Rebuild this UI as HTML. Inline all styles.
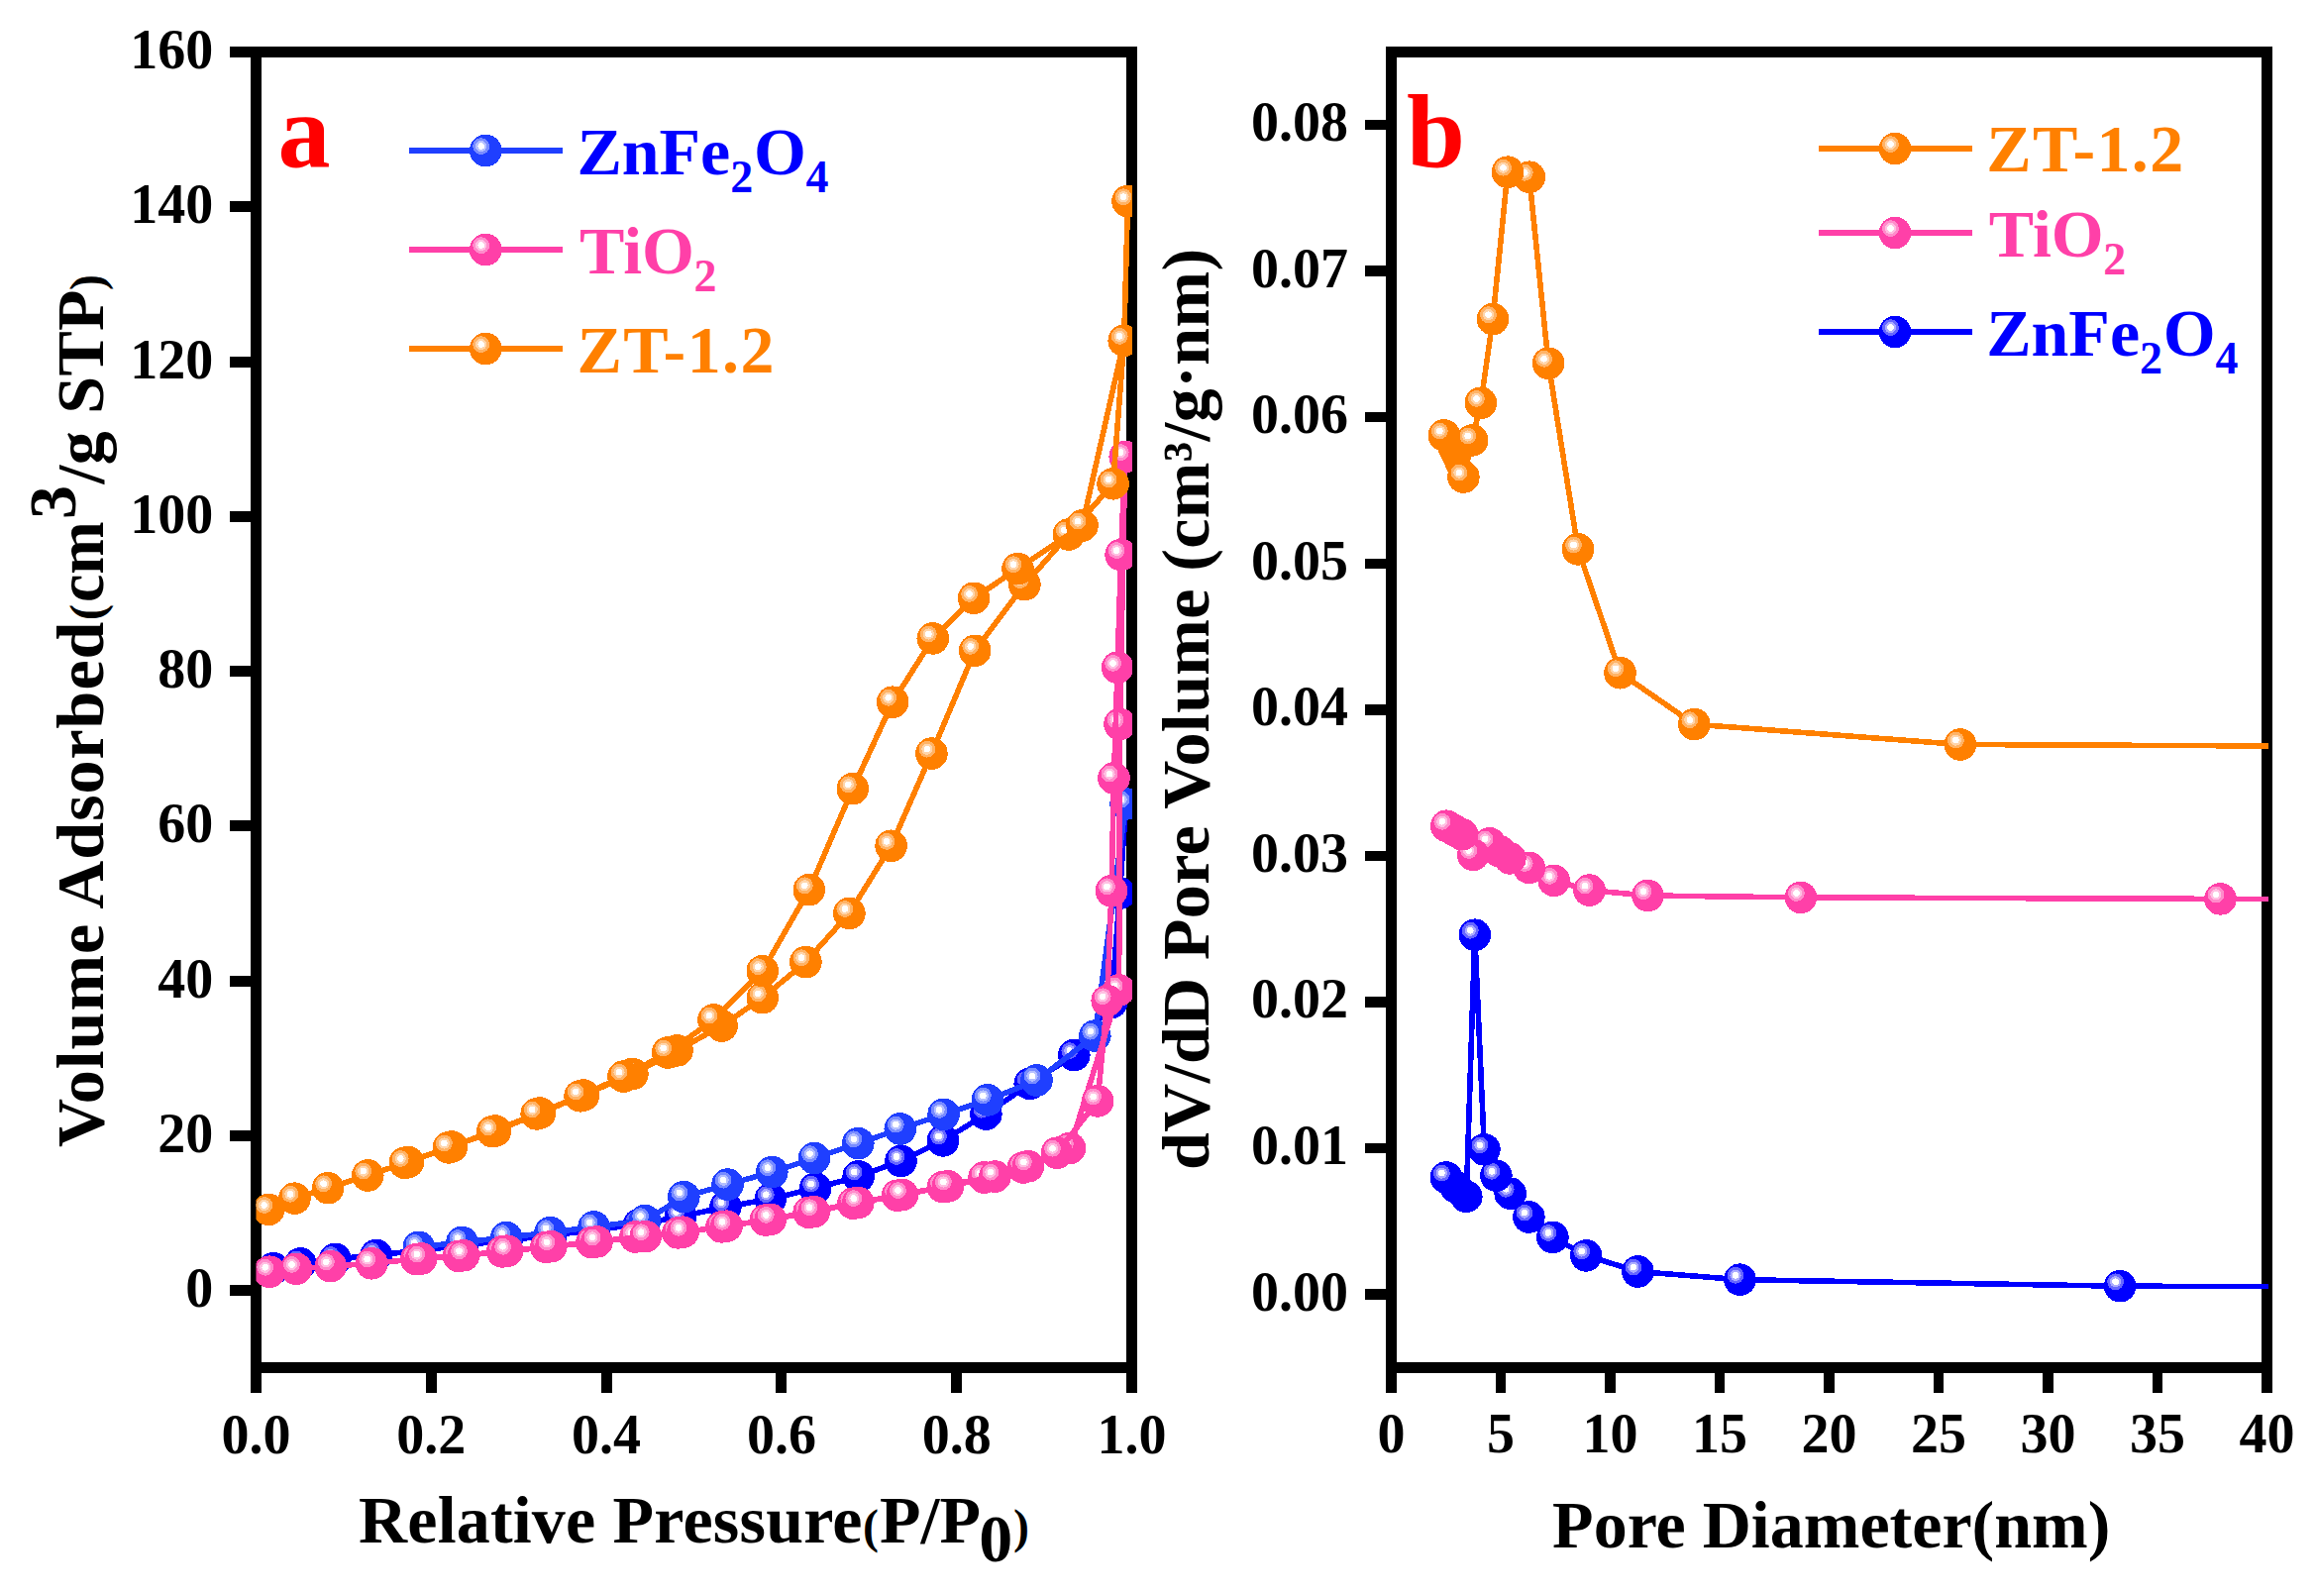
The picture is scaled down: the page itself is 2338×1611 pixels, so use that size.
<!DOCTYPE html>
<html><head><meta charset="utf-8"><title>N2 adsorption-desorption isotherms and pore size distribution</title>
<style>html,body{margin:0;padding:0;background:#fff}svg{display:block}</style></head>
<body>
<svg width="2338" height="1611" viewBox="0 0 2338 1611">
<rect width="2338" height="1611" fill="#fff"/>
<defs>
<g id="bo"><circle r="16.3" fill="#FF8000"/><circle cx="-4.5" cy="-4.4" r="8.4" fill="#FFB366"/><circle cx="-4.5" cy="-4.4" r="5.6" fill="#FFD5AB"/><circle cx="-4.5" cy="-4.4" r="3.3" fill="#FFFFFF"/></g>
<g id="bp"><circle r="16.3" fill="#FF40A8"/><circle cx="-4.5" cy="-4.4" r="8.4" fill="#FF8CCB"/><circle cx="-4.5" cy="-4.4" r="5.6" fill="#FFC0E2"/><circle cx="-4.5" cy="-4.4" r="3.3" fill="#FFFFFF"/></g>
<g id="br"><circle r="16.3" fill="#1F3FFF"/><circle cx="-4.5" cy="-4.4" r="8.4" fill="#798CFF"/><circle cx="-4.5" cy="-4.4" r="5.6" fill="#B5C0FF"/><circle cx="-4.5" cy="-4.4" r="3.3" fill="#FFFFFF"/></g>
<g id="bb"><circle r="16.3" fill="#0000FF"/><circle cx="-4.5" cy="-4.4" r="8.4" fill="#6666FF"/><circle cx="-4.5" cy="-4.4" r="5.6" fill="#ABABFF"/><circle cx="-4.5" cy="-4.4" r="3.3" fill="#FFFFFF"/></g>
<clipPath id="ca"><rect x="258.5" y="52.5" width="884.5" height="1328"/></clipPath>
<clipPath id="cb"><rect x="1404.5" y="52.5" width="885.5" height="1328"/></clipPath>
</defs>
<g stroke="#000" stroke-width="11" fill="none" shape-rendering="crispEdges"><rect x="258.5" y="52.5" width="884.0" height="1328.0"/><g stroke-width="11"><line x1="258.5" y1="1380.5" x2="258.5" y2="1406" stroke-width="11"/><line x1="435.3" y1="1380.5" x2="435.3" y2="1406" stroke-width="11"/><line x1="612.1" y1="1380.5" x2="612.1" y2="1406" stroke-width="11"/><line x1="788.9" y1="1380.5" x2="788.9" y2="1406" stroke-width="11"/><line x1="965.7" y1="1380.5" x2="965.7" y2="1406" stroke-width="11"/><line x1="1142.5" y1="1380.5" x2="1142.5" y2="1406" stroke-width="11"/><line x1="232.0" y1="1302.5" x2="258.5" y2="1302.5"/><line x1="232.0" y1="1146.2" x2="258.5" y2="1146.2"/><line x1="232.0" y1="990.0" x2="258.5" y2="990.0"/><line x1="232.0" y1="833.8" x2="258.5" y2="833.8"/><line x1="232.0" y1="677.5" x2="258.5" y2="677.5"/><line x1="232.0" y1="521.2" x2="258.5" y2="521.2"/><line x1="232.0" y1="365.0" x2="258.5" y2="365.0"/><line x1="232.0" y1="208.8" x2="258.5" y2="208.8"/><line x1="232.0" y1="52.5" x2="258.5" y2="52.5"/></g></g>
<g stroke="#000" stroke-width="11" fill="none" shape-rendering="crispEdges"><rect x="1404.5" y="52.5" width="884.0" height="1328.0"/><g stroke-width="10.4"><line x1="1404.5" y1="1380.5" x2="1404.5" y2="1406" stroke-width="11"/><line x1="1515.0" y1="1380.5" x2="1515.0" y2="1406" stroke-width="10.4"/><line x1="1625.5" y1="1380.5" x2="1625.5" y2="1406" stroke-width="10.4"/><line x1="1736.0" y1="1380.5" x2="1736.0" y2="1406" stroke-width="10.4"/><line x1="1846.5" y1="1380.5" x2="1846.5" y2="1406" stroke-width="10.4"/><line x1="1957.0" y1="1380.5" x2="1957.0" y2="1406" stroke-width="10.4"/><line x1="2067.5" y1="1380.5" x2="2067.5" y2="1406" stroke-width="10.4"/><line x1="2178.0" y1="1380.5" x2="2178.0" y2="1406" stroke-width="10.4"/><line x1="2288.5" y1="1380.5" x2="2288.5" y2="1406" stroke-width="11"/><line x1="1378.0" y1="1306.5" x2="1404.5" y2="1306.5"/><line x1="1378.0" y1="1158.9" x2="1404.5" y2="1158.9"/><line x1="1378.0" y1="1011.4" x2="1404.5" y2="1011.4"/><line x1="1378.0" y1="863.8" x2="1404.5" y2="863.8"/><line x1="1378.0" y1="716.3" x2="1404.5" y2="716.3"/><line x1="1378.0" y1="568.7" x2="1404.5" y2="568.7"/><line x1="1378.0" y1="421.1" x2="1404.5" y2="421.1"/><line x1="1378.0" y1="273.6" x2="1404.5" y2="273.6"/><line x1="1378.0" y1="126.0" x2="1404.5" y2="126.0"/></g></g>
<g font-family="'Liberation Serif', 'Times New Roman', serif" font-weight="bold" font-size="56" fill="#000"><text x="215.2" y="1319.0" text-anchor="end">0</text><text x="215.2" y="1162.8" text-anchor="end">20</text><text x="215.2" y="1006.5" text-anchor="end">40</text><text x="215.2" y="850.2" text-anchor="end">60</text><text x="215.2" y="694.0" text-anchor="end">80</text><text x="215.2" y="537.8" text-anchor="end">100</text><text x="215.2" y="381.5" text-anchor="end">120</text><text x="215.2" y="225.2" text-anchor="end">140</text><text x="215.2" y="69.0" text-anchor="end">160</text><text x="258.5" y="1467" text-anchor="middle">0.0</text><text x="435.3" y="1467" text-anchor="middle">0.2</text><text x="612.1" y="1467" text-anchor="middle">0.4</text><text x="788.9" y="1467" text-anchor="middle">0.6</text><text x="965.7" y="1467" text-anchor="middle">0.8</text><text x="1142.5" y="1467" text-anchor="middle">1.0</text><text x="1361" y="1322.5" text-anchor="end">0.00</text><text x="1361" y="1174.9" text-anchor="end">0.01</text><text x="1361" y="1027.4" text-anchor="end">0.02</text><text x="1361" y="879.8" text-anchor="end">0.03</text><text x="1361" y="732.3" text-anchor="end">0.04</text><text x="1361" y="584.7" text-anchor="end">0.05</text><text x="1361" y="437.1" text-anchor="end">0.06</text><text x="1361" y="289.6" text-anchor="end">0.07</text><text x="1361" y="142.0" text-anchor="end">0.08</text><text x="1404.5" y="1466" text-anchor="middle">0</text><text x="1515.0" y="1466" text-anchor="middle">5</text><text x="1625.5" y="1466" text-anchor="middle">10</text><text x="1736.0" y="1466" text-anchor="middle">15</text><text x="1846.5" y="1466" text-anchor="middle">20</text><text x="1957.0" y="1466" text-anchor="middle">25</text><text x="2067.5" y="1466" text-anchor="middle">30</text><text x="2178.0" y="1466" text-anchor="middle">35</text><text x="2288.5" y="1466" text-anchor="middle">40</text></g>
<g font-family="'Liberation Serif', 'Times New Roman', serif" font-weight="bold" font-size="68" fill="#000"><text y="1557"><tspan x="362" letter-spacing="0.19">Relative Pressure</tspan><tspan x="871" font-size="48">(</tspan><tspan x="888">P/P</tspan><tspan x="988.2" dy="19">0</tspan><tspan x="1023.1" dy="-19" font-size="48">)</tspan></text><text transform="translate(104,0) rotate(-90)" y="0"><tspan x="-1158" letter-spacing="0.95">Volume Adsorbed</tspan><tspan x="-625.9" font-size="48">(</tspan><tspan x="-608.1" textLength="81.9" lengthAdjust="spacingAndGlyphs">cm</tspan><tspan x="-524.1" dy="-28">3</tspan><tspan x="-488.5" dy="28" letter-spacing="0.3">/g STP</tspan><tspan x="-292.9" font-size="48">)</tspan></text><text x="1567.1" y="1561.5">Pore Diameter(nm)</text><text transform="translate(1219.5,0) rotate(-90)" x="-1181" y="0" letter-spacing="0.37">dV/dD Pore Volume (cm³/g·nm)</text></g>
<g clip-path="url(#ca)" shape-rendering="crispEdges">
<polyline points="276.2,1280.2 303.4,1275.4 338.4,1270.9 379.8,1267.0 423.9,1262.2 467.0,1257.0 511.5,1252.0 556.0,1247.0 600.0,1241.5 645.0,1236.0 687.1,1228.0 732.4,1218.3 777.8,1210.1 823.1,1199.5 866.7,1187.4 909.5,1171.9 952.0,1151.4 995.4,1124.6 1039.7,1093.9 1084.3,1065.0 1122.0,1012.0 1130.5,901.6 1136.6,811.4" fill="none" stroke="#0000FF" stroke-width="5.6" stroke-linejoin="round"/>
<use href="#bb" x="276.2" y="1280.2"/><use href="#bb" x="303.4" y="1275.4"/><use href="#bb" x="338.4" y="1270.9"/><use href="#bb" x="379.8" y="1267.0"/><use href="#bb" x="423.9" y="1262.2"/><use href="#bb" x="467.0" y="1257.0"/><use href="#bb" x="511.5" y="1252.0"/><use href="#bb" x="556.0" y="1247.0"/><use href="#bb" x="600.0" y="1241.5"/><use href="#bb" x="645.0" y="1236.0"/><use href="#bb" x="687.1" y="1228.0"/><use href="#bb" x="732.4" y="1218.3"/><use href="#bb" x="777.8" y="1210.1"/><use href="#bb" x="823.1" y="1199.5"/><use href="#bb" x="866.7" y="1187.4"/><use href="#bb" x="909.5" y="1171.9"/><use href="#bb" x="952.0" y="1151.4"/><use href="#bb" x="995.4" y="1124.6"/><use href="#bb" x="1039.7" y="1093.9"/><use href="#bb" x="1084.3" y="1065.0"/><use href="#bb" x="1122.0" y="1012.0"/><use href="#bb" x="1130.5" y="901.6"/><use href="#bb" x="1136.6" y="811.4"/>
<polyline points="1136.6,811.4 1105.3,1045.6 1046.5,1090.5 996.9,1110.4 952.6,1124.8 908.8,1139.5 866.3,1154.2 822.0,1169.1 779.3,1183.1 734.6,1195.6 690.3,1208.2 651.1,1232.0 599.6,1238.4 555.5,1244.2 511.2,1249.1 466.5,1254.0 422.8,1258.8" fill="none" stroke="#1F3FFF" stroke-width="5.6" stroke-linejoin="round"/>
<use href="#br" x="1136.6" y="811.4"/><use href="#br" x="1105.3" y="1045.6"/><use href="#br" x="1046.5" y="1090.5"/><use href="#br" x="996.9" y="1110.4"/><use href="#br" x="952.6" y="1124.8"/><use href="#br" x="908.8" y="1139.5"/><use href="#br" x="866.3" y="1154.2"/><use href="#br" x="822.0" y="1169.1"/><use href="#br" x="779.3" y="1183.1"/><use href="#br" x="734.6" y="1195.6"/><use href="#br" x="690.3" y="1208.2"/><use href="#br" x="651.1" y="1232.0"/><use href="#br" x="599.6" y="1238.4"/><use href="#br" x="555.5" y="1244.2"/><use href="#br" x="511.2" y="1249.1"/><use href="#br" x="466.5" y="1254.0"/><use href="#br" x="422.8" y="1258.8"/>
<polyline points="420.3,1271.2 463.0,1267.9 507.1,1263.4 551.4,1258.9 597.5,1254.1 641.4,1248.5 684.5,1244.4 728.5,1238.4 772.8,1231.5 816.6,1223.8 861.3,1214.7 906.0,1206.7 951.9,1198.1 993.6,1188.5 1033.0,1178.5 1080.0,1158.9 1129.6,999.4 1130.5,731.0 1135.7,461.0" fill="none" stroke="#FF40A8" stroke-width="5.6" stroke-linejoin="round"/>
<use href="#bp" x="420.3" y="1271.2"/><use href="#bp" x="463.0" y="1267.9"/><use href="#bp" x="507.1" y="1263.4"/><use href="#bp" x="551.4" y="1258.9"/><use href="#bp" x="597.5" y="1254.1"/><use href="#bp" x="641.4" y="1248.5"/><use href="#bp" x="684.5" y="1244.4"/><use href="#bp" x="728.5" y="1238.4"/><use href="#bp" x="772.8" y="1231.5"/><use href="#bp" x="816.6" y="1223.8"/><use href="#bp" x="861.3" y="1214.7"/><use href="#bp" x="906.0" y="1206.7"/><use href="#bp" x="951.9" y="1198.1"/><use href="#bp" x="993.6" y="1188.5"/><use href="#bp" x="1033.0" y="1178.5"/><use href="#bp" x="1080.0" y="1158.9"/><use href="#bp" x="1129.6" y="999.4"/><use href="#bp" x="1130.5" y="731.0"/><use href="#bp" x="1135.7" y="461.0"/>
<polyline points="272.2,1283.7 299.0,1280.8 333.8,1278.2 375.2,1275.3 425.3,1270.5 468.0,1267.2 512.1,1262.7 556.4,1258.2 602.5,1253.4 651.7,1248.1 689.5,1243.7 733.5,1237.7 777.8,1230.8 821.6,1223.1 866.3,1214.0 911.0,1206.0 956.9,1197.4 1004.4,1187.6 1037.9,1177.3 1067.0,1163.7 1108.1,1111.4 1117.7,1010.2 1122.0,899.3 1124.5,785.5 1128.1,673.8 1131.6,560.0 1135.7,461.0" fill="none" stroke="#FF40A8" stroke-width="5.6" stroke-linejoin="round"/>
<use href="#bp" x="272.2" y="1283.7"/><use href="#bp" x="299.0" y="1280.8"/><use href="#bp" x="333.8" y="1278.2"/><use href="#bp" x="375.2" y="1275.3"/><use href="#bp" x="425.3" y="1270.5"/><use href="#bp" x="468.0" y="1267.2"/><use href="#bp" x="512.1" y="1262.7"/><use href="#bp" x="556.4" y="1258.2"/><use href="#bp" x="602.5" y="1253.4"/><use href="#bp" x="651.7" y="1248.1"/><use href="#bp" x="689.5" y="1243.7"/><use href="#bp" x="733.5" y="1237.7"/><use href="#bp" x="777.8" y="1230.8"/><use href="#bp" x="821.6" y="1223.1"/><use href="#bp" x="866.3" y="1214.0"/><use href="#bp" x="911.0" y="1206.0"/><use href="#bp" x="956.9" y="1197.4"/><use href="#bp" x="1004.4" y="1187.6"/><use href="#bp" x="1037.9" y="1177.3"/><use href="#bp" x="1067.0" y="1163.7"/><use href="#bp" x="1108.1" y="1111.4"/><use href="#bp" x="1117.7" y="1010.2"/><use href="#bp" x="1122.0" y="899.3"/><use href="#bp" x="1124.5" y="785.5"/><use href="#bp" x="1128.1" y="673.8"/><use href="#bp" x="1131.6" y="560.0"/><use href="#bp" x="1135.7" y="461.0"/>
<polyline points="271.2,1220.9 297.4,1209.7 331.1,1199.2 371.3,1186.5 412.0,1173.0 456.0,1157.5 500.0,1141.5 545.0,1123.5 589.0,1105.5 638.4,1084.0 683.5,1060.4 728.6,1035.5 769.8,1007.2 813.4,971.1 857.4,921.9 899.6,853.8 940.4,760.6 984.2,656.8 1034.4,590.0 1078.9,539.5 1123.6,488.3 1134.7,343.8 1138.5,203.1" fill="none" stroke="#FF8000" stroke-width="5.6" stroke-linejoin="round"/>
<use href="#bo" x="271.2" y="1220.9"/><use href="#bo" x="297.4" y="1209.7"/><use href="#bo" x="331.1" y="1199.2"/><use href="#bo" x="371.3" y="1186.5"/><use href="#bo" x="412.0" y="1173.0"/><use href="#bo" x="456.0" y="1157.5"/><use href="#bo" x="500.0" y="1141.5"/><use href="#bo" x="545.0" y="1123.5"/><use href="#bo" x="589.0" y="1105.5"/><use href="#bo" x="638.4" y="1084.0"/><use href="#bo" x="683.5" y="1060.4"/><use href="#bo" x="728.6" y="1035.5"/><use href="#bo" x="769.8" y="1007.2"/><use href="#bo" x="813.4" y="971.1"/><use href="#bo" x="857.4" y="921.9"/><use href="#bo" x="899.6" y="853.8"/><use href="#bo" x="940.4" y="760.6"/><use href="#bo" x="984.2" y="656.8"/><use href="#bo" x="1034.4" y="590.0"/><use href="#bo" x="1078.9" y="539.5"/><use href="#bo" x="1123.6" y="488.3"/><use href="#bo" x="1134.7" y="343.8"/><use href="#bo" x="1138.5" y="203.1"/>
<polyline points="1138.5,203.1 1134.7,343.8 1092.5,530.5 1027.5,574.1 983.1,603.8 941.8,644.4 901.2,708.7 860.8,796.2 816.8,898.2 769.8,980.1 720.4,1029.5 674.2,1062.5 629.5,1086.6 585.6,1106.3 541.7,1124.4 497.2,1142.2 452.9,1158.4 408.8,1173.9" fill="none" stroke="#FF8000" stroke-width="5.6" stroke-linejoin="round"/>
<use href="#bo" x="1138.5" y="203.1"/><use href="#bo" x="1134.7" y="343.8"/><use href="#bo" x="1092.5" y="530.5"/><use href="#bo" x="1027.5" y="574.1"/><use href="#bo" x="983.1" y="603.8"/><use href="#bo" x="941.8" y="644.4"/><use href="#bo" x="901.2" y="708.7"/><use href="#bo" x="860.8" y="796.2"/><use href="#bo" x="816.8" y="898.2"/><use href="#bo" x="769.8" y="980.1"/><use href="#bo" x="720.4" y="1029.5"/><use href="#bo" x="674.2" y="1062.5"/><use href="#bo" x="629.5" y="1086.6"/><use href="#bo" x="585.6" y="1106.3"/><use href="#bo" x="541.7" y="1124.4"/><use href="#bo" x="497.2" y="1142.2"/><use href="#bo" x="452.9" y="1158.4"/><use href="#bo" x="408.8" y="1173.9"/>
</g>
<g clip-path="url(#cb)" shape-rendering="crispEdges">
<polyline points="2300.0,1298.6 2140.1,1298.2 1756.5,1291.7 1653.4,1283.5 1601.2,1267.4 1567.4,1248.9 1543.4,1228.5 1524.7,1204.7 1510.4,1186.7 1498.4,1160.3 1488.8,943.7 1480.3,1207.8 1469.9,1198.3 1459.9,1188.5" fill="none" stroke="#0000FF" stroke-width="5.6" stroke-linejoin="round"/>
<use href="#bb" x="2140.1" y="1298.2"/><use href="#bb" x="1756.5" y="1291.7"/><use href="#bb" x="1653.4" y="1283.5"/><use href="#bb" x="1601.2" y="1267.4"/><use href="#bb" x="1567.4" y="1248.9"/><use href="#bb" x="1543.4" y="1228.5"/><use href="#bb" x="1524.7" y="1204.7"/><use href="#bb" x="1510.4" y="1186.7"/><use href="#bb" x="1498.4" y="1160.3"/><use href="#bb" x="1488.8" y="943.7"/><use href="#bb" x="1480.3" y="1207.8"/><use href="#bb" x="1469.9" y="1198.3"/><use href="#bb" x="1459.9" y="1188.5"/>
<polyline points="2300.0,907.6 2241.5,907.4 1817.9,905.9 1663.5,904.0 1604.5,898.6 1568.7,888.8 1543.7,875.9 1524.4,866.4 1514.0,859.4 1503.6,851.3 1487.2,862.9 1476.0,842.2 1468.0,838.0 1460.3,833.7" fill="none" stroke="#FF40A8" stroke-width="5.6" stroke-linejoin="round"/>
<use href="#bp" x="2241.5" y="907.4"/><use href="#bp" x="1817.9" y="905.9"/><use href="#bp" x="1663.5" y="904.0"/><use href="#bp" x="1604.5" y="898.6"/><use href="#bp" x="1568.7" y="888.8"/><use href="#bp" x="1543.7" y="875.9"/><use href="#bp" x="1524.4" y="866.4"/><use href="#bp" x="1514.0" y="859.4"/><use href="#bp" x="1503.6" y="851.3"/><use href="#bp" x="1487.2" y="862.9"/><use href="#bp" x="1476.0" y="842.2"/><use href="#bp" x="1468.0" y="838.0"/><use href="#bp" x="1460.3" y="833.7"/>
<line x1="1460" y1="443" x2="1474" y2="473" stroke="#FF8000" stroke-width="25" stroke-linecap="round"/><polyline points="2300.0,753.0 1978.9,751.5 1710.3,731.1 1635.5,679.2 1593.0,554.4 1563.1,366.7 1543.8,178.7 1522.0,173.7 1507.0,322.1 1494.9,406.8 1486.2,444.4 1477.4,481.5 1457.8,439.4" fill="none" stroke="#FF8000" stroke-width="5.6" stroke-linejoin="round"/>
<use href="#bo" x="1978.9" y="751.5"/><use href="#bo" x="1710.3" y="731.1"/><use href="#bo" x="1635.5" y="679.2"/><use href="#bo" x="1593.0" y="554.4"/><use href="#bo" x="1563.1" y="366.7"/><use href="#bo" x="1543.8" y="178.7"/><use href="#bo" x="1522.0" y="173.7"/><use href="#bo" x="1507.0" y="322.1"/><use href="#bo" x="1494.9" y="406.8"/><use href="#bo" x="1486.2" y="444.4"/><use href="#bo" x="1477.4" y="481.5"/><use href="#bo" x="1457.8" y="439.4"/>
</g>
<g font-family="'Liberation Serif', 'Times New Roman', serif" font-weight="bold" font-size="68" shape-rendering="crispEdges"><line x1="413" y1="152" x2="568" y2="152" stroke="#1F3FFF" stroke-width="6"/><use href="#br" x="490.2" y="152"/><text fill="#0000FF"><tspan x="582.4" y="176.1">ZnFe</tspan><tspan x="737.2" dy="18" font-size="46">2</tspan><tspan x="760.9" dy="-18">O</tspan><tspan x="813.6" dy="18" font-size="46">4</tspan></text>
<line x1="413" y1="252" x2="568" y2="252" stroke="#FF40A8" stroke-width="6"/><use href="#bp" x="490.2" y="252"/><text fill="#FF40A8"><tspan x="585.0" y="275.8">TiO</tspan><tspan x="700.5" dy="18.5" font-size="46">2</tspan></text>
<line x1="413" y1="352" x2="568" y2="352" stroke="#FF8000" stroke-width="6"/><use href="#bo" x="490.2" y="352"/><text fill="#FF8000"><tspan x="582.4" y="375.8" letter-spacing="1.38">ZT-1.2</tspan></text>
<line x1="1836" y1="150" x2="1991" y2="150" stroke="#FF8000" stroke-width="6"/><use href="#bo" x="1913" y="150"/><text fill="#FF8000"><tspan x="2005.2" y="173.3" letter-spacing="1.38">ZT-1.2</tspan></text>
<line x1="1836" y1="235" x2="1991" y2="235" stroke="#FF40A8" stroke-width="6"/><use href="#bp" x="1913" y="235"/><text fill="#FF40A8"><tspan x="2007.8" y="258.8">TiO</tspan><tspan x="2123.3" dy="18.5" font-size="46">2</tspan></text>
<line x1="1836" y1="335" x2="1991" y2="335" stroke="#0000FF" stroke-width="6"/><use href="#bb" x="1913" y="335"/><text fill="#0000FF"><tspan x="2005.2" y="359">ZnFe</tspan><tspan x="2160.0" dy="18" font-size="46">2</tspan><tspan x="2183.7" dy="-18">O</tspan><tspan x="2236.4" dy="18" font-size="46">4</tspan></text>
</g>
<g font-family="'Liberation Serif', 'Times New Roman', serif" font-weight="bold" font-size="106" fill="#FF0000"><text x="280.5" y="167.7">a</text><text x="1420" y="168.8">b</text></g>
</svg>
</body></html>
